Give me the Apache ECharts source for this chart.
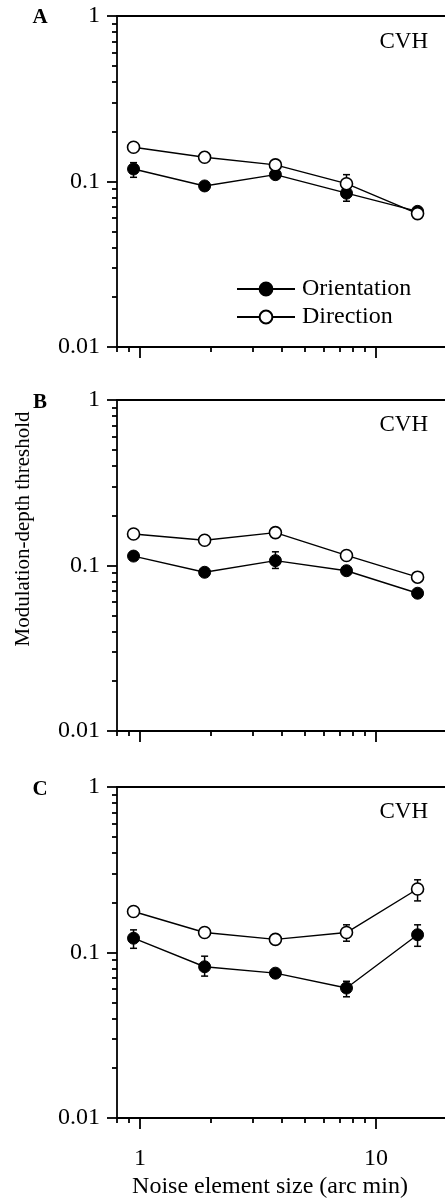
<!DOCTYPE html>
<html>
<head>
<meta charset="utf-8">
<script src="https://cdn.jsdelivr.net/npm/echarts@6/dist/echarts.min.js"></script>
<style>
  html, body { margin: 0; padding: 0; background: #fff; }
  #chart { width: 445px; height: 1199px; }
</style>
</head>
<body>
<div id="chart"></div>
<script>
// Noise element sizes (arc min)
const sizes = [0.94, 1.88, 3.75, 7.5, 15];

// Tick values
const xMajorTicks = [1, 10];
const xMinorTicks = [0.8, 0.9, 2, 3, 4, 5, 6, 7, 8, 9];
const yMajorTicks = [0.01, 0.1, 1];
const yMinorTicks = [0.02, 0.03, 0.04, 0.05, 0.06, 0.07, 0.08, 0.09,
                     0.2, 0.3, 0.4, 0.5, 0.6, 0.7, 0.8, 0.9];

// Panel A
const oriA    = [0.119, 0.094, 0.110, 0.085, 0.066];
const oriA_lo = [0.106, 0.090, 0.105, 0.076, 0.063];
const oriA_hi = [0.130, 0.098, 0.115, 0.093, 0.069];
const dirA    = [0.161, 0.140, 0.126, 0.097, 0.064];
const dirA_lo = [0.155, 0.135, 0.121, 0.090, 0.061];
const dirA_hi = [0.167, 0.145, 0.131, 0.110, 0.067];

// Panel B
const oriB    = [0.114, 0.091, 0.107, 0.093, 0.068];
const oriB_lo = [0.109, 0.087, 0.096, 0.089, 0.065];
const oriB_hi = [0.119, 0.095, 0.121, 0.097, 0.071];
const dirB    = [0.155, 0.142, 0.158, 0.115, 0.085];
const dirB_lo = [0.149, 0.135, 0.152, 0.110, 0.081];
const dirB_hi = [0.161, 0.148, 0.164, 0.120, 0.089];

// Panel C
const oriC    = [0.122, 0.082, 0.075, 0.061, 0.128];
const oriC_lo = [0.106, 0.072, 0.071, 0.054, 0.109];
const oriC_hi = [0.137, 0.095, 0.078, 0.067, 0.147];
const dirC    = [0.177, 0.132, 0.120, 0.132, 0.242];
const dirC_lo = [0.171, 0.127, 0.115, 0.117, 0.205];
const dirC_hi = [0.184, 0.137, 0.124, 0.147, 0.275];

const FONT = 'Liberation Serif, Times New Roman, serif';
const AXIS_W = 1.8;

const panels = [
  { top: 16,  ori: oriA, oriLo: oriA_lo, oriHi: oriA_hi, dir: dirA, dirLo: dirA_lo, dirHi: dirA_hi },
  { top: 400, ori: oriB, oriLo: oriB_lo, oriHi: oriB_hi, dir: dirB, dirLo: dirB_lo, dirHi: dirB_hi },
  { top: 787, ori: oriC, oriLo: oriC_lo, oriHi: oriC_hi, dir: dirC, dirLo: dirC_lo, dirHi: dirC_hi }
];
const PANEL_H = 331;

const grid = [], xAxis = [], yAxis = [], series = [];

function errorBars(params, api) {
  const x = api.value(0);
  const p0 = api.coord([x, api.value(1)]);
  const p1 = api.coord([x, api.value(2)]);
  const w = 3.5;
  const st = { stroke: '#000', lineWidth: 1.5 };
  return {
    type: 'group',
    children: [
      { type: 'line', shape: { x1: p0[0], y1: p0[1], x2: p1[0], y2: p1[1] }, style: st },
      { type: 'line', shape: { x1: p0[0] - w, y1: p0[1], x2: p0[0] + w, y2: p0[1] }, style: st },
      { type: 'line', shape: { x1: p1[0] - w, y1: p1[1], x2: p1[0] + w, y2: p1[1] }, style: st }
    ]
  };
}

panels.forEach(function (p, i) {
  grid.push({ left: 117, right: 0, top: p.top, height: PANEL_H, outerBoundsMode: 'none' });

  const xBase = { type: 'log', logBase: 10, min: 0.8, max: 19.6, gridIndex: i, splitLine: { show: false } };
  const xMain = xAxis.length;
  // main x axis: line, decade ticks, labels on the bottom panel
  xAxis.push(Object.assign({}, xBase, {
    position: 'bottom',
    axisLine: { show: true, onZero: false, lineStyle: { color: '#000', width: AXIS_W } },
    axisTick: { show: true, customValues: xMajorTicks, length: 11, lineStyle: { color: '#000', width: AXIS_W } },
    axisLabel: {
      show: i === 2, customValues: xMajorTicks, margin: 29,
      fontSize: 24, fontFamily: FONT, color: '#000',
      formatter: function (v) { return String(v); }
    }
  }));
  // minor x ticks
  xAxis.push(Object.assign({}, xBase, {
    position: 'bottom',
    axisLine: { show: false, onZero: false },
    axisTick: { show: true, customValues: xMinorTicks, length: 5, lineStyle: { color: '#000', width: AXIS_W } },
    axisLabel: { show: false }
  }));
  // top frame line
  xAxis.push(Object.assign({}, xBase, {
    position: 'top',
    axisLine: { show: true, onZero: false, lineStyle: { color: '#000', width: AXIS_W } },
    axisTick: { show: false },
    axisLabel: { show: false }
  }));

  const yBase = { type: 'log', logBase: 10, min: 0.01, max: 1, gridIndex: i, position: 'left', splitLine: { show: false } };
  const yMain = yAxis.length;
  yAxis.push(Object.assign({}, yBase, {
    axisLine: { show: true, onZero: false, lineStyle: { color: '#000', width: AXIS_W } },
    axisTick: { show: true, customValues: yMajorTicks, length: 10, lineStyle: { color: '#000', width: AXIS_W } },
    axisLabel: {
      show: true, customValues: yMajorTicks, margin: 17,
      fontSize: 24, fontFamily: FONT, color: '#000',
      formatter: function (v) { return String(v); }
    }
  }));
  yAxis.push(Object.assign({}, yBase, {
    axisLine: { show: false, onZero: false },
    axisTick: { show: true, customValues: yMinorTicks, length: 5, lineStyle: { color: '#000', width: AXIS_W } },
    axisLabel: { show: false }
  }));

  const errData = [];
  sizes.forEach(function (s, k) {
    errData.push([s, p.oriLo[k], p.oriHi[k]]);
    errData.push([s, p.dirLo[k], p.dirHi[k]]);
  });

  series.push({
    type: 'custom',
    xAxisIndex: xMain, yAxisIndex: yMain,
    renderItem: errorBars,
    encode: { x: 0, y: [1, 2] },
    data: errData,
    silent: true,
    z: 1
  });
  series.push({
    name: 'Orientation', type: 'line',
    xAxisIndex: xMain, yAxisIndex: yMain,
    data: sizes.map(function (s, k) { return [s, p.ori[k]]; }),
    symbol: 'circle', symbolSize: 12,
    itemStyle: { color: '#000', borderColor: '#000', borderWidth: 1 },
    lineStyle: { color: '#000', width: 1.4 },
    emphasis: { disabled: true },
    z: 2
  });
  series.push({
    name: 'Direction', type: 'line',
    xAxisIndex: xMain, yAxisIndex: yMain,
    data: sizes.map(function (s, k) { return [s, p.dir[k]]; }),
    symbol: 'circle', symbolSize: 12,
    itemStyle: { color: '#fff', borderColor: '#000', borderWidth: 1.6 },
    lineStyle: { color: '#000', width: 1.4 },
    emphasis: { disabled: true },
    z: 3
  });
});

function label(text, x, y, opts) {
  return {
    type: 'text', x: x, y: y,
    style: Object.assign({
      text: text, fontFamily: FONT, fontSize: 24, fill: '#000',
      align: 'center', verticalAlign: 'middle'
    }, opts || {})
  };
}

const graphic = [
  label('A', 40, 18, { fontSize: 21, fontWeight: 'bold' }),
  label('B', 40, 403, { fontSize: 21, fontWeight: 'bold' }),
  label('C', 40, 790, { fontSize: 21, fontWeight: 'bold' }),
  label('CVH', 428, 42, { align: 'right', fontSize: 23 }),
  label('CVH', 428, 425, { align: 'right', fontSize: 23 }),
  label('CVH', 428, 812, { align: 'right', fontSize: 23 }),
  Object.assign(label('Modulation-depth threshold', 23, 529, { fontSize: 21 }), { rotation: Math.PI / 2 }),
  label('Noise element size (arc min)', 270, 1187)
];

const chart = echarts.init(document.getElementById('chart'), null, { renderer: 'canvas' });
chart.setOption({
  animation: false,
  backgroundColor: '#fff',
  grid: grid,
  xAxis: xAxis,
  yAxis: yAxis,
  legend: {
    data: ['Orientation', 'Direction'],
    orient: 'vertical',
    left: 236, top: 277,
    padding: 0,
    itemWidth: 58, itemHeight: 16, itemGap: 4,
    selectedMode: false,
    textStyle: { fontSize: 24, fontFamily: FONT, color: '#000', lineHeight: 24, padding: [0, 0, 0, 2] }
  },
  series: series,
  graphic: graphic
});
</script>
</body>
</html>
